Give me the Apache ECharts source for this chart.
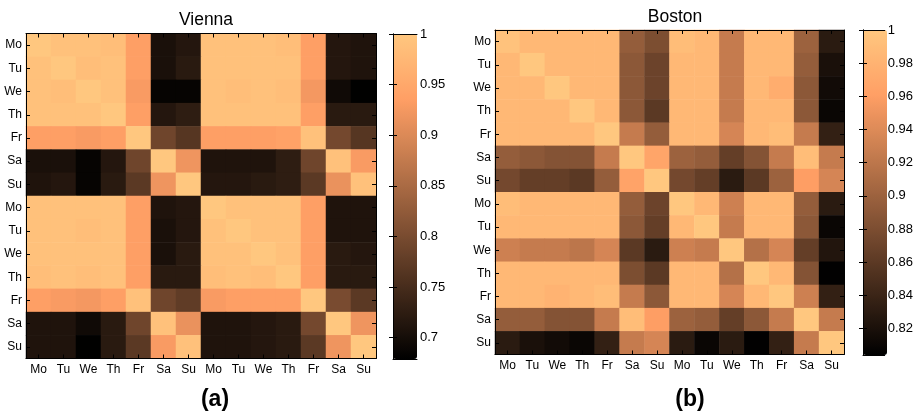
<!DOCTYPE html>
<html>
<head>
<meta charset="utf-8">
<script src="https://cdn.jsdelivr.net/npm/echarts@6/dist/echarts.min.js"></script>
<style>
html,body{margin:0;padding:0;background:#fff;}
#chart{width:916px;height:415px;}
</style>
</head>
<body>
<div id="chart"></div>
<script>
// ---------- data ----------
const dayLabels = ['Mo','Tu','We','Th','Fr','Sa','Su','Mo','Tu','We','Th','Fr','Sa','Su'];

const viennaRange = [0.679, 1];
const bostonRange = [0.804, 1];

const vienna = [
  [1.000,0.990,0.990,0.985,0.935,0.705,0.715,0.990,0.990,0.990,0.985,0.935,0.715,0.710],
  [0.990,1.000,0.985,0.990,0.935,0.705,0.720,0.990,0.990,0.990,0.990,0.935,0.715,0.710],
  [0.990,0.985,1.000,0.990,0.930,0.685,0.685,0.990,0.985,0.990,0.985,0.925,0.695,0.680],
  [0.990,0.990,0.990,1.000,0.935,0.715,0.725,0.990,0.990,0.990,0.990,0.935,0.720,0.720],
  [0.935,0.935,0.930,0.935,1.000,0.790,0.765,0.935,0.935,0.935,0.940,0.990,0.795,0.765],
  [0.705,0.705,0.685,0.715,0.790,1.000,0.920,0.710,0.710,0.710,0.725,0.790,0.990,0.930],
  [0.710,0.715,0.685,0.720,0.770,0.920,1.000,0.715,0.715,0.720,0.725,0.770,0.915,0.990],
  [0.990,0.990,0.990,0.990,0.935,0.710,0.715,1.000,0.990,0.990,0.990,0.935,0.710,0.710],
  [0.990,0.990,0.985,0.990,0.935,0.705,0.715,0.990,1.000,0.990,0.990,0.935,0.710,0.710],
  [0.990,0.990,0.990,0.990,0.935,0.705,0.720,0.990,0.990,1.000,0.990,0.935,0.720,0.715],
  [0.985,0.990,0.985,0.990,0.935,0.720,0.720,0.985,0.990,0.985,1.000,0.935,0.720,0.720],
  [0.935,0.930,0.925,0.935,0.990,0.790,0.775,0.930,0.935,0.935,0.935,1.000,0.800,0.770],
  [0.710,0.710,0.695,0.720,0.790,0.990,0.915,0.710,0.710,0.715,0.720,0.795,1.000,0.920],
  [0.710,0.710,0.680,0.720,0.770,0.930,0.990,0.710,0.710,0.715,0.720,0.770,0.920,1.000]
];

const boston = [
  [0.995,0.985,0.985,0.985,0.985,0.895,0.880,0.990,0.985,0.925,0.985,0.985,0.900,0.830],
  [0.985,1.000,0.985,0.985,0.985,0.890,0.870,0.985,0.985,0.925,0.985,0.985,0.895,0.820],
  [0.985,0.985,1.000,0.985,0.985,0.890,0.870,0.985,0.985,0.925,0.985,0.975,0.890,0.815],
  [0.985,0.985,0.985,1.000,0.985,0.890,0.860,0.985,0.985,0.925,0.985,0.985,0.890,0.810],
  [0.985,0.985,0.985,0.985,1.000,0.925,0.895,0.985,0.985,0.935,0.985,0.990,0.925,0.835],
  [0.895,0.890,0.885,0.885,0.925,1.000,0.967,0.900,0.895,0.865,0.885,0.925,0.990,0.925],
  [0.875,0.865,0.865,0.860,0.895,0.965,1.000,0.875,0.865,0.830,0.860,0.900,0.960,0.935],
  [0.990,0.985,0.985,0.985,0.985,0.895,0.870,1.000,0.985,0.930,0.985,0.985,0.895,0.830],
  [0.985,0.985,0.985,0.985,0.985,0.890,0.865,0.985,1.000,0.925,0.985,0.985,0.890,0.810],
  [0.930,0.925,0.925,0.920,0.935,0.860,0.830,0.930,0.925,1.000,0.915,0.935,0.865,0.825],
  [0.985,0.985,0.985,0.985,0.985,0.880,0.860,0.985,0.985,0.915,1.000,0.985,0.885,0.805],
  [0.985,0.985,0.980,0.985,0.990,0.925,0.890,0.985,0.985,0.935,0.985,1.000,0.930,0.835],
  [0.895,0.895,0.885,0.885,0.925,0.990,0.960,0.900,0.895,0.865,0.890,0.925,1.000,0.925],
  [0.830,0.820,0.815,0.810,0.835,0.925,0.935,0.830,0.810,0.830,0.805,0.835,0.925,1.000]
];

// ---------- helpers ----------
const copper = ['#000000','#402819','#805033','#bf784c','#ff9f65','#ffc77f'];
const FONT = "'Liberation Sans', Arial, Helvetica, sans-serif";

function toCells(m) {
  const out = [];
  for (let r = 0; r < m.length; r++)
    for (let c = 0; c < m[r].length; c++)
      out.push([c, r, m[r][c]]);
  return out;
}

const heatGrids = [
  {left: 26, top: 33.5, width: 350, height: 325},
  {left: 495, top: 30, width: 349, height: 324.5}
];
const cbGrids = [
  {left: 393, top: 34, width: 24, height: 325},
  {left: 863, top: 30, width: 24, height: 325}
];

const lineStyle = {color: '#000', width: 1};
const xAxes = [], yAxes = [];
// heatmap axes
[0,1].forEach(g => {
  xAxes.push({gridIndex: g, type: 'category', data: dayLabels, position: 'bottom', z: 10,
    axisLine: {show: true, lineStyle}, axisTick: {show: true, inside: true, alignWithLabel: true, length: 4, lineStyle},
    axisLabel: {color: '#000', fontFamily: FONT, fontSize: 12, margin: 5, interval: 0}, splitLine: {show: false}});
  xAxes.push({gridIndex: g, type: 'category', data: dayLabels, position: 'top', z: 10,
    axisLine: {show: true, lineStyle}, axisTick: {show: true, inside: true, alignWithLabel: true, length: 4, lineStyle},
    axisLabel: {show: false}, splitLine: {show: false}});
  yAxes.push({gridIndex: g, type: 'category', data: dayLabels, position: 'left', inverse: true, z: 10,
    axisLine: {show: true, lineStyle}, axisTick: {show: true, inside: true, alignWithLabel: true, length: 4, lineStyle},
    axisLabel: {color: '#000', fontFamily: FONT, fontSize: 12, margin: 4, interval: 0}, splitLine: {show: false}});
  yAxes.push({gridIndex: g, type: 'category', data: dayLabels, position: 'right', inverse: true, z: 10,
    axisLine: {show: true, lineStyle}, axisTick: {show: true, inside: true, alignWithLabel: true, length: 4, lineStyle},
    axisLabel: {show: false}, splitLine: {show: false}});
});
// colorbar axes
const cbRanges = [viennaRange, bostonRange];
const cbSplit = [6, 10];
const cbStep = [0.05, 0.02];
[0,1].forEach(i => {
  const g = 2 + i;
  xAxes.push({gridIndex: g, type: 'value', min: 0, max: 1, position: 'bottom', z: 10,
    axisLine: {show: true, lineStyle}, axisTick: {show: false}, axisLabel: {show: false}, splitLine: {show: false}});
  xAxes.push({gridIndex: g, type: 'value', min: 0, max: 1, position: 'top', z: 10,
    axisLine: {show: true, lineStyle}, axisTick: {show: false}, axisLabel: {show: false}, splitLine: {show: false}});
  const fmt = v => {
    const k = v / cbStep[i];
    if (Math.abs(k - Math.round(k)) > 1e-6) return '';
    return String(+v.toFixed(2));
  };
  yAxes.push({gridIndex: g, type: 'value', min: cbRanges[i][0], max: cbRanges[i][1], splitNumber: cbSplit[i], position: 'left', z: 10,
    axisLine: {show: true, lineStyle}, axisTick: {show: true, inside: true, length: 4, lineStyle},
    axisLabel: {show: false}, splitLine: {show: false}});
  yAxes.push({gridIndex: g, type: 'value', min: cbRanges[i][0], max: cbRanges[i][1], splitNumber: cbSplit[i], position: 'right', z: 10,
    axisLine: {show: true, lineStyle}, axisTick: {show: true, inside: true, length: 4, lineStyle},
    axisLabel: {show: true, color: '#000', fontFamily: FONT, fontSize: 13, margin: 3, formatter: fmt, showMinLabel: false},
    splitLine: {show: false}});
});

const option = {
  animation: false,
  backgroundColor: '#fff',
  title: [
    {text: 'Vienna', left: 201, top: 6, textAlign: 'center', textStyle: {fontFamily: FONT, fontSize: 17.5, fontWeight: 'normal', color: '#000'}},
    {text: 'Boston', left: 670, top: 3, textAlign: 'center', textStyle: {fontFamily: FONT, fontSize: 17.5, fontWeight: 'normal', color: '#000'}},
    {text: '(a)', left: 210, top: 383, textAlign: 'center', textStyle: {fontFamily: FONT, fontSize: 23, fontWeight: 'bold', color: '#000'}},
    {text: '(b)', left: 685, top: 383, textAlign: 'center', textStyle: {fontFamily: FONT, fontSize: 23, fontWeight: 'bold', color: '#000'}}
  ],
  grid: heatGrids.concat(cbGrids).map(g => Object.assign({containLabel: false}, g)),
  xAxis: xAxes,
  yAxis: yAxes,
  visualMap: [
    {type: 'continuous', seriesIndex: 0, min: viennaRange[0], max: viennaRange[1], dimension: 2,
     inRange: {color: copper}, calculable: false, hoverLink: false, orient: 'vertical',
     left: cbGrids[0].left, top: cbGrids[0].top, itemWidth: cbGrids[0].width, itemHeight: cbGrids[0].height, padding: 0, text: null},
    {type: 'continuous', seriesIndex: 1, min: bostonRange[0], max: bostonRange[1], dimension: 2,
     inRange: {color: copper}, calculable: false, hoverLink: false, orient: 'vertical',
     left: cbGrids[1].left, top: cbGrids[1].top, itemWidth: cbGrids[1].width, itemHeight: cbGrids[1].height, padding: 0, text: null}
  ],
  series: [
    {type: 'heatmap', xAxisIndex: 0, yAxisIndex: 0, data: toCells(vienna), emphasis: {disabled: true}, itemStyle: {borderWidth: 0}},
    {type: 'heatmap', xAxisIndex: 2, yAxisIndex: 2, data: toCells(boston), emphasis: {disabled: true}, itemStyle: {borderWidth: 0}}
  ]
};

const chart = echarts.init(document.getElementById('chart'), null, {renderer: 'canvas'});
chart.setOption(option);
</script>
</body>
</html>
